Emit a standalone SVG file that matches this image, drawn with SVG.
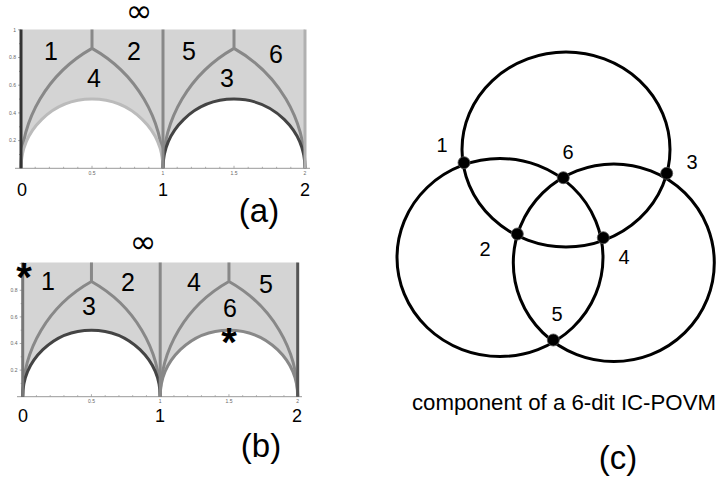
<svg xmlns="http://www.w3.org/2000/svg" width="716" height="479" viewBox="0 0 716 479">
<style>
.shade{fill:#d4d4d4;stroke:none}
.ln{fill:none;stroke-width:3}
.ax{fill:none;stroke:#999;stroke-width:1}
.tk{fill:none;stroke:#999;stroke-width:0.8}
.tl{font-family:"Liberation Sans",Arial,sans-serif;font-size:5px;fill:#666}
.rl{font-family:"Liberation Sans",Arial,sans-serif;font-size:25px;fill:#000;text-anchor:middle}
.al{font-family:"Liberation Sans",Arial,sans-serif;font-size:18px;fill:#000;text-anchor:middle}
.pl{font-family:"Liberation Sans",Arial,sans-serif;font-size:33px;fill:#000;text-anchor:middle}
.inf{font-family:"DejaVu Sans",sans-serif;font-size:32px;fill:#000;text-anchor:middle}
.star{font-family:"Liberation Sans",Arial,sans-serif;font-size:40px;font-weight:bold;fill:#000;text-anchor:middle}
.circ{fill:none;stroke:#000;stroke-width:3}
.dot{fill:#000;stroke:#555;stroke-width:0.8}
.nl{font-family:"Liberation Sans",Arial,sans-serif;font-size:20px;fill:#000;text-anchor:middle}
.cap{font-family:"Liberation Sans",Arial,sans-serif;font-size:22px;fill:#000}
</style>

<!-- Panel (a) -->
<g id="panel-a">
  <path class="shade" d="M21,29.5 H305 V168.3 A71,69.25 0 0 0 163,168.3 A71,69.25 0 0 0 21,168.3 Z"/>
  <path class="ax" d="M15,168.3 H310"/>
  <path class="tk" d="M35.2,168.3v-1.5M49.4,168.3v-1.5M63.6,168.3v-1.5M77.8,168.3v-1.5M92,168.3v-2.5M106.2,168.3v-1.5M120.4,168.3v-1.5M134.6,168.3v-1.5M148.8,168.3v-1.5M177.2,168.3v-1.5M191.4,168.3v-1.5M205.6,168.3v-1.5M219.8,168.3v-1.5M234,168.3v-2.5M248.2,168.3v-1.5M262.4,168.3v-1.5M276.6,168.3v-1.5M290.8,168.3v-1.5"/>
  <path class="tk" d="M18,29.8h3M18,57.5h3M18,85.2h3M18,112.9h3M18,140.6h3M19,43.7h2M19,71.4h2M19,99.1h2M19,126.8h2M19,154.5h2"/>
  <text class="tl" x="16" y="31.5" text-anchor="end">1</text>
  <text class="tl" x="16" y="59.2" text-anchor="end">0.8</text>
  <text class="tl" x="16" y="86.9" text-anchor="end">0.6</text>
  <text class="tl" x="16" y="114.6" text-anchor="end">0.4</text>
  <text class="tl" x="16" y="142.3" text-anchor="end">0.2</text>
  <text class="tl" x="92" y="174.5" text-anchor="middle">0.5</text>
  <text class="tl" x="163" y="174.5" text-anchor="middle">1</text>
  <text class="tl" x="234" y="174.5" text-anchor="middle">1.5</text>
  <text class="tl" x="305" y="174.5" text-anchor="middle">2</text>
  <path class="ln" stroke="#888" d="M21,168.3 A142,138.5 0 0 1 92,48.4 A142,138.5 0 0 1 163,168.3 M163,168.3 A142,138.5 0 0 1 234,48.4 A142,138.5 0 0 1 305,168.3 M92,48.4 V29.5 M234,48.4 V29.5"/>
  <path class="ln" stroke="#bbbbbb" d="M21,168.3 A71,69.25 0 0 1 163,168.3"/>
  <path class="ln" stroke="#444" d="M163,168.3 A71,69.25 0 0 1 305,168.3"/>
  <path class="ln" stroke="#888" d="M163,29.5 V168.3"/>
  <path class="ln" stroke="#b0b0b0" d="M305,29.5 V168.3"/>
  <path class="ln" stroke="#333" d="M21,29.5 V168.3"/>
  <text class="inf" x="139" y="22">∞</text>
  <text class="rl" x="51" y="60">1</text>
  <text class="rl" x="134" y="60">2</text>
  <text class="rl" x="189" y="60">5</text>
  <text class="rl" x="276" y="63">6</text>
  <text class="rl" x="94" y="87">4</text>
  <text class="rl" x="227" y="87">3</text>
  <text class="al" x="22" y="196">0</text>
  <text class="al" x="163" y="196">1</text>
  <text class="al" x="305" y="196">2</text>
  <text class="pl" x="259" y="222">(a)</text>
</g>

<!-- Panel (b) -->
<g id="panel-b">
  <path class="shade" d="M22.7,262.5 H297.7 V396.7 A68.75,66.5 0 0 0 160.2,396.7 A68.75,66.5 0 0 0 22.7,396.7 Z"/>
  <path class="ax" d="M17,396.7 H302"/>
  <path class="tk" d="M36.45,396.7v-1.5M50.2,396.7v-1.5M63.95,396.7v-1.5M77.7,396.7v-1.5M91.45,396.7v-2.5M105.2,396.7v-1.5M118.95,396.7v-1.5M132.7,396.7v-1.5M146.45,396.7v-1.5M173.95,396.7v-1.5M187.7,396.7v-1.5M201.45,396.7v-1.5M215.2,396.7v-1.5M228.95,396.7v-2.5M242.7,396.7v-1.5M256.45,396.7v-1.5M270.2,396.7v-1.5M283.95,396.7v-1.5"/>
  <path class="tk" d="M19.7,263.7h3M19.7,290.3h3M19.7,316.9h3M19.7,343.5h3M19.7,370.1h3M20.7,277h2M20.7,303.6h2M20.7,330.2h2M20.7,356.8h2M20.7,383.4h2"/>
  <text class="tl" x="17.5" y="292" text-anchor="end">0.8</text>
  <text class="tl" x="17.5" y="318.6" text-anchor="end">0.6</text>
  <text class="tl" x="17.5" y="345.2" text-anchor="end">0.4</text>
  <text class="tl" x="17.5" y="371.8" text-anchor="end">0.2</text>
  <text class="tl" x="91.45" y="402.5" text-anchor="middle">0.5</text>
  <text class="tl" x="160.2" y="402.5" text-anchor="middle">1</text>
  <text class="tl" x="228.95" y="402.5" text-anchor="middle">1.5</text>
  <text class="tl" x="297.7" y="402.5" text-anchor="middle">2</text>
  <path class="ln" stroke="#888" d="M22.7,396.7 A137.5,133 0 0 1 91.45,281.5 A137.5,133 0 0 1 160.2,396.7 M160.2,396.7 A137.5,133 0 0 1 228.95,281.5 A137.5,133 0 0 1 297.7,396.7 M91.45,281.5 V262.5 M228.95,281.5 V262.5"/>
  <path class="ln" stroke="#444" d="M22.7,396.7 A68.75,66.5 0 0 1 160.2,396.7"/>
  <path class="ln" stroke="#888" d="M160.2,396.7 A68.75,66.5 0 0 1 297.7,396.7"/>
  <path class="ln" stroke="#888" d="M160.2,262.5 V396.7"/>
  <path class="ln" stroke="#555" d="M297.7,262.5 V396.7"/>
  <path class="ln" stroke="#777" d="M22.7,262.5 V396.7"/>
  <text class="inf" x="143" y="253">∞</text>
  <text class="star" x="24" y="291">*</text>
  <text class="star" x="229" y="356">*</text>
  <text class="rl" x="48" y="290">1</text>
  <text class="rl" x="128" y="291">2</text>
  <text class="rl" x="194" y="291">4</text>
  <text class="rl" x="266" y="293">5</text>
  <text class="rl" x="89" y="315">3</text>
  <text class="rl" x="230" y="317">6</text>
  <text class="al" x="23" y="421.5">0</text>
  <text class="al" x="160" y="421.5">1</text>
  <text class="al" x="297" y="421.5">2</text>
  <text class="pl" x="261" y="457">(b)</text>
</g>

<!-- Panel (c) -->
<g id="connectors">
  <ellipse class="circ" cx="566" cy="149.5" rx="104" ry="97.5"/>
  <ellipse class="circ" cx="500" cy="257.5" rx="103" ry="99"/>
  <ellipse class="circ" cx="613.8" cy="262.8" rx="100.5" ry="98.8"/>
</g>
<g id="node-1"><circle class="dot" cx="464" cy="162.7" r="6"/><text class="nl" x="442" y="152">1</text></g>
<g id="node-2"><circle class="dot" cx="517.3" cy="234" r="6"/><text class="nl" x="485" y="256">2</text></g>
<g id="node-3"><circle class="dot" cx="666.7" cy="173.3" r="6"/><text class="nl" x="692" y="168.5">3</text></g>
<g id="node-4"><circle class="dot" cx="603.3" cy="237.7" r="6"/><text class="nl" x="624" y="264">4</text></g>
<g id="node-5"><circle class="dot" cx="553.3" cy="340" r="6"/><text class="nl" x="557" y="321">5</text></g>
<g id="node-6"><circle class="dot" cx="563.3" cy="177.7" r="6"/><text class="nl" x="568" y="158.5">6</text></g>
<text class="cap" x="412" y="410" textLength="304" lengthAdjust="spacingAndGlyphs">component of a 6-dit IC-POVM</text>
<text class="pl" x="618" y="469">(c)</text>
</svg>
